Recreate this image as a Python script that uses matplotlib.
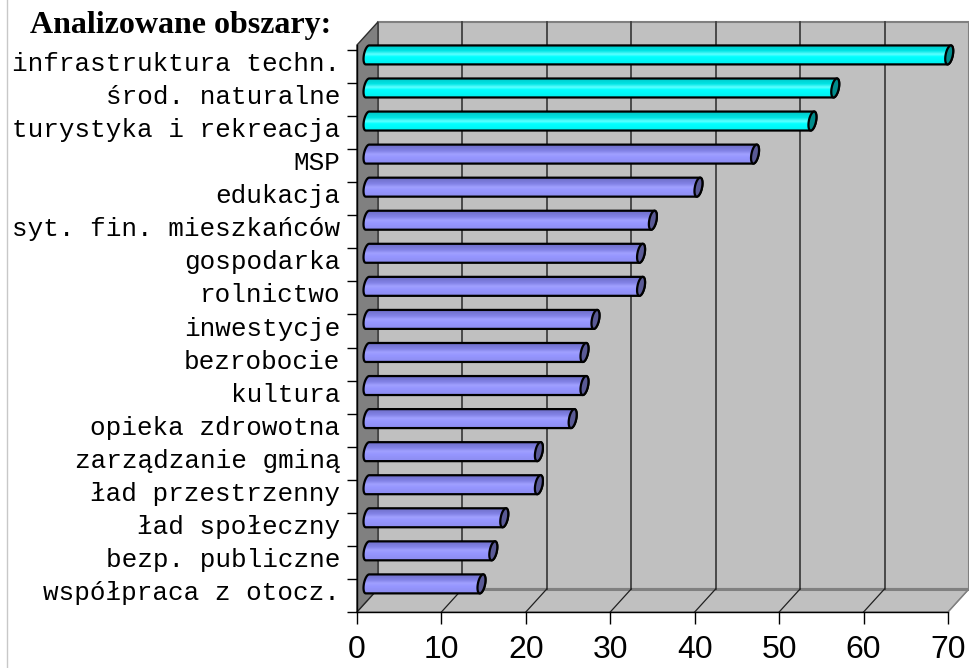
import numpy as np
import matplotlib
matplotlib.use("Agg")
import matplotlib.pyplot as plt
from matplotlib.patches import Polygon
from matplotlib.lines import Line2D
from matplotlib.colors import to_rgb

# =========================
# DATA
# =========================
CATEGORIES = [
    "infrastruktura techn.", "środ. naturalne", "turystyka i rekreacja", "MSP",
    "edukacja", "syt. fin. mieszkańców", "gospodarka", "rolnictwo", "inwestycje",
    "bezrobocie", "kultura", "opieka zdrowotna", "zarządzanie gminą",
    "ład przestrzenny", "ład społeczny", "bezp. publiczne", "współpraca z otocz.",
]
VALUES = [68.9, 55.4, 52.7, 45.9, 39.2, 33.8, 32.4, 32.4, 27.0,
          25.7, 25.7, 24.3, 20.3, 20.3, 16.2, 14.9, 13.5]
TOP_GROUP = 3  # first three bars drawn in cyan
X_TICKS = [0, 10, 20, 30, 40, 50, 60, 70]
TITLE = "Analizowane obszary:"

# =========================
# LAYOUT / STYLE
# =========================
W, H = 970, 668
X_MAX = 70
N = len(CATEGORIES)
Y_TOP = 17.15          # height of the front plane (category units)
DX, DY = 2.49, 0.70    # 3D depth offset in data units
SX = 591 / X_MAX       # px per value unit
SY = 567 / Y_TOP       # px per category unit

WALL = "#c0c0c0"
SIDE = "#808080"
GRID = "#404040"

fig = plt.figure(figsize=(W / 100, H / 100), dpi=100)
ax = fig.add_axes([357 / W, (H - 612) / H, 591 / W, 567 / H])
ax.set_facecolor("none")
ax.set_xlim(0, X_MAX)
ax.set_ylim(0, Y_TOP)

# back wall, left wall, floor
ax.add_patch(Polygon([(DX, DY), (X_MAX + DX, DY), (X_MAX + DX, Y_TOP + DY), (DX, Y_TOP + DY)],
                     closed=True, facecolor=WALL, edgecolor=SIDE, lw=1.5, clip_on=False, zorder=0.2))
ax.add_patch(Polygon([(0, 0), (0, Y_TOP), (DX, Y_TOP + DY), (DX, DY)],
                     closed=True, facecolor=SIDE, edgecolor="#303030", lw=1.0, clip_on=False, zorder=0.3))
ax.add_patch(Polygon([(0, 0), (X_MAX, 0), (X_MAX + DX, DY), (DX, DY)],
                     closed=True, facecolor=WALL, edgecolor=SIDE, lw=1.0, clip_on=False, zorder=0.3))
ax.plot([DX, X_MAX + DX], [DY, DY], color=SIDE, lw=2.2, clip_on=False, zorder=0.4)

# gridlines on wall + floor diagonals
for v in X_TICKS:
    if 0 < v < X_MAX:
        ax.plot([v + DX, v + DX], [DY, Y_TOP + DY], color=GRID, lw=1.3, clip_on=False, zorder=0.5)
    ax.plot([v, v + DX], [0, DY], color="#202020" if v < X_MAX else SIDE, lw=0.9,
            clip_on=False, zorder=0.5)

# =========================
# CYLINDER BARS
# =========================
r_v = 8.6 / SY
r_dx = 4.0 / SX
r_dy = 4.0 / SY
t_top = np.arctan2(r_dy, r_v)
half_h = np.hypot(r_v, r_dy)


def ellipse(cx, cy, t):
    return np.column_stack([cx + r_dx * np.sin(t), cy + r_v * np.cos(t) + r_dy * np.sin(t)])


def gradient(stops, n=64):
    pos = np.linspace(0, 1, n)
    ps = [s[0] for s in stops]
    cols = np.array([to_rgb(s[1]) for s in stops])
    img = np.stack([np.interp(pos, ps, cols[:, k]) for k in range(3)], axis=1)
    return img[:, None, :]


CYAN_GRAD = gradient([(0, "#00c8c8"), (0.3, "#00e4e4"), (0.48, "#60ffff"),
                      (0.62, "#00ffff"), (1, "#00f0f0")])
PURP_GRAD = gradient([(0, "#6e6ec8"), (0.3, "#8282e6"), (0.48, "#a0a0ff"),
                      (0.65, "#9696ff"), (1, "#8c8cf0")])

for i, (name, val) in enumerate(zip(CATEGORIES, VALUES)):
    yc = (N - 1 - i) + 0.5 + DY / 2
    x0 = DX / 2
    x1 = val + DX / 2
    top_grp = i < TOP_GROUP
    t_r = np.linspace(t_top, t_top + np.pi, 40)
    t_l = np.linspace(t_top + np.pi, t_top + 2 * np.pi, 40)
    body_pts = np.vstack([ellipse(x1, yc, t_r), ellipse(x0, yc, t_l)])
    body = Polygon(body_pts, closed=True, facecolor="none", edgecolor="black",
                   lw=1.6, clip_on=False, zorder=3.2)
    ax.add_patch(body)
    im = ax.imshow(CYAN_GRAD if top_grp else PURP_GRAD, aspect="auto",
                   extent=[x0 - r_dx, x1 + r_dx, yc - half_h, yc + half_h],
                   interpolation="bilinear", zorder=3.0)
    im.set_clip_path(body)
    im.set_clip_box(None)
    cap = Polygon(ellipse(x1, yc, np.linspace(0, 2 * np.pi, 60)), closed=True,
                  facecolor="#008c8c" if top_grp else "#5a5a96", edgecolor="black",
                  lw=1.6, clip_on=False, zorder=3.4)
    ax.add_patch(cap)

ax.set_xlim(0, X_MAX)
ax.set_ylim(0, Y_TOP)

# =========================
# AXES
# =========================
for s in ["top", "right"]:
    ax.spines[s].set_visible(False)
for s in ["left", "bottom"]:
    ax.spines[s].set_color("black")
    ax.spines[s].set_linewidth(1.0)
    ax.spines[s].set_zorder(2.5)

ax.set_xticks(X_TICKS)
ax.set_xticklabels([str(v) for v in X_TICKS], fontsize=23, family="Liberation Sans")
ax.tick_params(axis="x", direction="out", length=8.6, width=1.0, pad=8, color="black")

ax.set_yticks(range(N + 1))
ax.set_yticklabels([])
ax.tick_params(axis="y", which="major", direction="out", length=7.2, width=1.0, color="black")
# labels sit a little above the front category centre
ax.set_yticks([k + 0.5 + 0.15 for k in range(N)], minor=True)
ax.set_yticklabels(CATEGORIES[::-1], minor=True, fontsize=18.7, family="Liberation Mono")
ax.tick_params(axis="y", which="minor", length=0, pad=12)

fig.text(181 / W, 1 - 33 / H, TITLE, ha="center", va="baseline", fontsize=23,
         fontweight="bold", family="Liberation Serif")
fig.add_artist(Line2D([7.5 / W, 7.5 / W], [0, 1], transform=fig.transFigure,
                      color="#c8c8c8", lw=1.0))

fig.savefig("out.png", dpi=100)
